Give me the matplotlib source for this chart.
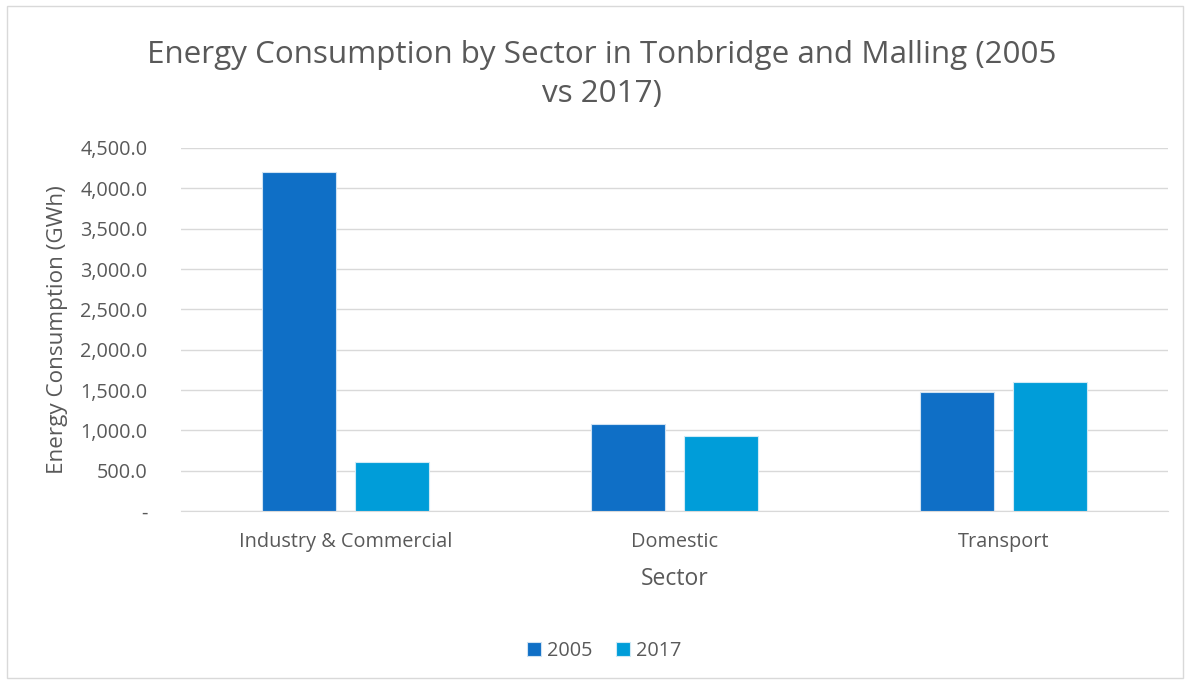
import matplotlib
matplotlib.use("Agg")
import matplotlib.pyplot as plt
import numpy as np
from matplotlib.ticker import FuncFormatter

categories = ["Industry & Commercial", "Domestic", "Transport"]
series_names = ["2005", "2017"]
values_2005 = [4200, 1078, 1475]
values_2017 = [607, 930, 1599]
yticks = [0, 500, 1000, 1500, 2000, 2500, 3000, 3500, 4000, 4500]

plt.rcParams['font.family'] = ['Open Sans', 'DejaVu Sans']
txt = '#595959'

fig = plt.figure(figsize=(11.9, 6.82), dpi=100)
fig.patch.set_facecolor('white')
ax = fig.add_axes([0.1521, 0.2507, 0.8294, 0.5323])

x = np.arange(len(categories))
w = 0.225
off = 0.1425
ax.bar(x - off, values_2005, w, color='#0F6FC6', edgecolor='#cfe2f3', linewidth=0.8, label=series_names[0], zorder=3)
ax.bar(x + off, values_2017, w, color='#009DD9', edgecolor='#cfeaf6', linewidth=0.8, label=series_names[1], zorder=3)

ax.set_xlim(-0.5, len(categories) - 0.5)
ax.set_ylim(0, 4500)
ax.set_yticks(yticks)
ax.yaxis.set_major_formatter(FuncFormatter(lambda v, p: '-' if v == 0 else f'{v:,.1f}'))
ax.set_xticks(x)
ax.set_xticklabels(categories)
ax.grid(axis='y', color='#d9d9d9', linewidth=1, zorder=0)
for s in ['top', 'right', 'left']:
    ax.spines[s].set_visible(False)
ax.spines['bottom'].set_color('#d9d9d9')
ax.tick_params(axis='x', length=0, labelsize=14.3, colors=txt, pad=15)
ax.tick_params(axis='y', length=0, labelsize=14.3, colors=txt, pad=24)

ax.set_xlabel('Sector', fontsize=16.5, color=txt, va='center')
ax.xaxis.set_label_coords(0.5, -0.187)
ax.set_ylabel('Energy Consumption (GWh)', fontsize=16.2, color=txt, va='center')
ax.yaxis.set_label_coords(-0.1256, 0.5)

fig.text(0.506, 0.891, 'Energy Consumption by Sector in Tonbridge and Malling (2005\nvs 2017)',
         ha='center', va='center', fontsize=22.6, color=txt, linespacing=1.42)

fig.legend(loc='center', bbox_to_anchor=(0.508, 0.046), ncol=2, frameon=False,
           fontsize=14.3, handlelength=0.7, handleheight=0.7, handletextpad=0.3,
           columnspacing=1.2, labelcolor=txt)

border = plt.Rectangle((0.006, 0.006), 0.988, 0.985, transform=fig.transFigure,
                       fill=False, edgecolor='#d9d9d9', linewidth=1)
fig.patches.append(border)

fig.savefig('out.png', dpi=100)
